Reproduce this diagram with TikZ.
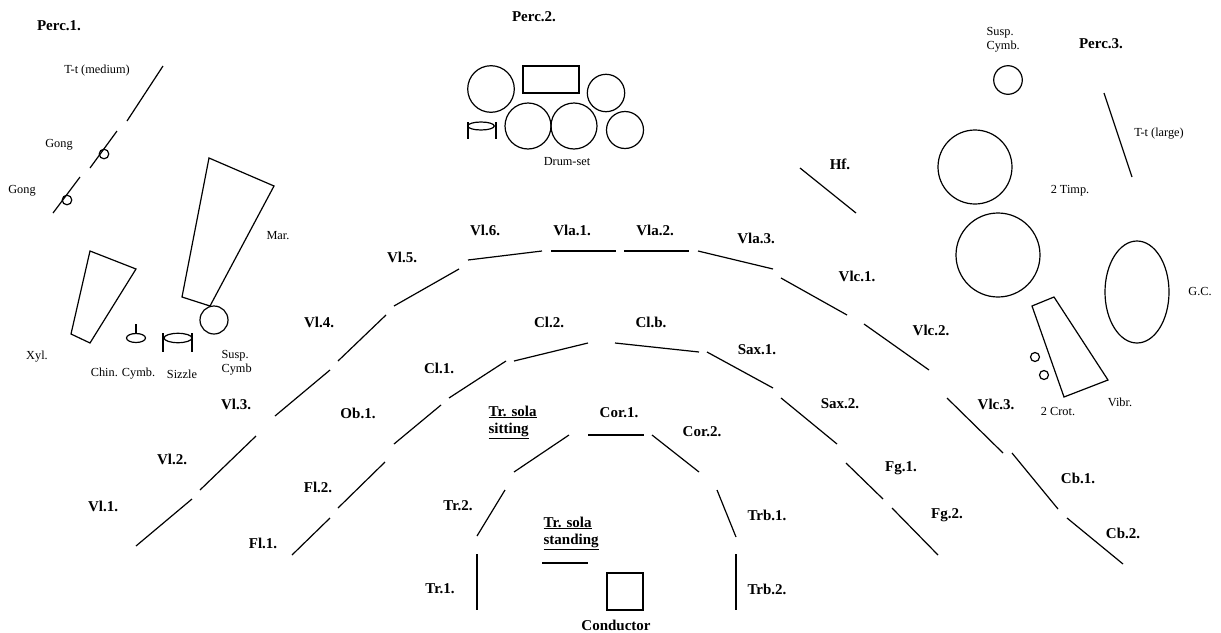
\documentclass[tikz,border=0pt]{standalone}
\usepackage{fontspec}
\setmainfont{Liberation Serif}
\begin{document}
\begin{tikzpicture}[x=1pt,y=-1pt,
  lbl/.style={font=\bfseries\fontsize{15}{17}\selectfont, inner sep=0pt},
  sm/.style={font=\fontsize{12.3}{14}\selectfont, inner sep=0pt},
  ln/.style={line width=1.2pt},
  every path/.style={line width=1.2pt}]
\useasboundingbox (0,0) rectangle (1221,632);
\fill[white] (0,0) rectangle (1221,632);

% ---------- Perc.1 ----------
\node[lbl] (perc1) at (59,26) {Perc.1.};
\node[sm] (ttmed) at (97,71) {T-t (medium)};
\node[sm] (gong1) at (59,145) {Gong};
\node[sm] (gong2) at (22,191) {Gong};
\draw (163,66) -- (127,121);
\draw (117,131) -- (90,168);
\draw (104,154) circle[radius=4.8pt];
\draw (80,177) -- (53,213);
\draw (67,200) circle[radius=4.8pt];
\draw (209,158) -- (274,186) -- (210,306) -- (182,297) -- cycle;
\draw (214,320) circle[radius=14pt];
\node[sm] (mar) at (278,236) {Mar.};
\draw (90,251) -- (136,269) -- (90,343) -- (71,334) -- cycle;
\node[sm] (xyl) at (37,357) {Xyl.};
\draw (136,338) ellipse[x radius=9.5pt, y radius=4.5pt];
\draw (136,324) -- (136,333.5);
\draw (178,338) ellipse[x radius=14pt, y radius=4.7pt];
\draw (163,333) -- (163,352);
\draw (192,333) -- (192,352);
\node[sm] (chin) at (123,374) {Chin. Cymb.};
\node[sm] (sizzle) at (182,374) {Sizzle};
\node[sm, anchor=west, align=left] (susp1) at (221,363) {Susp.\\Cymb};

% ---------- Perc.2 ----------
\node[lbl] (perc2) at (534,17) {Perc.2.};
\draw (491,89) circle[radius=23.3pt];
\draw (523,66) rectangle (579,93);
\draw (606,93) circle[radius=18.7pt];
\draw (528,126) circle[radius=23pt];
\draw (574,126) circle[radius=23pt];
\draw (625,130) circle[radius=18.5pt];
\draw (481,126) ellipse[x radius=13.3pt, y radius=4pt];
\draw (468,122) -- (468,139);
\draw (496,122) -- (496,139);
\node[sm] (drum) at (567,162) {Drum-set};

% ---------- Perc.3 ----------
\node[lbl] (perc3) at (1101,44) {Perc.3.};
\node[sm, anchor=west, align=left] (susp3) at (986,40) {Susp.\\Cymb.};
\draw (1008,80) circle[radius=14.3pt];
\draw (1104,93) -- (1132,177);
\node[sm] (ttl) at (1159,134) {T-t (large)};
\draw (975,167) circle[radius=37pt];
\draw (998,255) circle[radius=42pt];
\node[sm] (timp) at (1070,191) {2 Timp.};
\draw (1137,292) ellipse[x radius=32pt, y radius=51pt];
\node[sm] (gc) at (1200,292) {G.C.};
\draw (1032,306) -- (1054,297) -- (1108,380) -- (1064,397) -- cycle;
\draw (1035,357) circle[radius=4.5pt];
\draw (1044,375) circle[radius=4.5pt];
\node[sm] (crot) at (1058,412) {2 Crot.};
\node[sm] (vibr) at (1120,402) {Vibr.};

% ---------- Harp ----------
\node[lbl] (hf) at (840,164) {Hf.};
\draw (800,168) -- (856,213);

% ---------- Strings ----------
\node[lbl] (vl1) at (103,506) {Vl.1.};
\node[lbl] (vl2) at (172,459) {Vl.2.};
\node[lbl] (vl3) at (236,404) {Vl.3.};
\node[lbl] (vl4) at (319,322) {Vl.4.};
\node[lbl] (vl5) at (402,257) {Vl.5.};
\node[lbl] (vl6) at (485,230) {Vl.6.};
\node[lbl] (vla1) at (572,230) {Vla.1.};
\node[lbl] (vla2) at (655,230) {Vla.2.};
\node[lbl] (vla3) at (756,238) {Vla.3.};
\node[lbl] (vlc1) at (857,276) {Vlc.1.};
\node[lbl] (vlc2) at (931,330) {Vlc.2.};
\node[lbl] (vlc3) at (996,404) {Vlc.3.};
\node[lbl] (cb1) at (1078,478) {Cb.1.};
\node[lbl] (cb2) at (1123,533) {Cb.2.};
\draw (136,546) -- (192,499);
\draw (200,490) -- (256,436);
\draw (275,416) -- (330,370);
\draw (338,361) -- (386,315);
\draw (394,306) -- (459,269);
\draw (468,260) -- (542,251);
\draw (551,251) -- (616,251);
\draw (624,251) -- (689,251);
\draw (698,251) -- (773,269);
\draw (781,278) -- (847,315);
\draw (864,324) -- (929,370);
\draw (947,398) -- (1003,453);
\draw (1012,453) -- (1058,509);
\draw (1067,518) -- (1123,564);

% ---------- Woodwinds ----------
\node[lbl] (fl1) at (263,543) {Fl.1.};
\node[lbl] (fl2) at (318,487) {Fl.2.};
\node[lbl] (ob1) at (358,413) {Ob.1.};
\node[lbl] (cl1) at (439,368) {Cl.1.};
\node[lbl] (cl2) at (549,322) {Cl.2.};
\node[lbl] (clb) at (651,322) {Cl.b.};
\node[lbl] (sax1) at (757,350) {Sax.1.};
\node[lbl] (sax2) at (840,404) {Sax.2.};
\node[lbl] (fg1) at (901,468) {Fg.1.};
\node[lbl] (fg2) at (947,515) {Fg.2.};
\draw (292,555) -- (330,518);
\draw (338,508) -- (385,462);
\draw (394,444) -- (441,405);
\draw (449,398) -- (506,361);
\draw (514,361) -- (588,343);
\draw (615,343) -- (699,352);
\draw (707,352) -- (773,388);
\draw (781,398) -- (837,444);
\draw (846,463) -- (883,499);
\draw (892,508) -- (938,555);

% ---------- Brass ----------
\node[lbl, anchor=west, align=left] (solasit) at (488,422) {\underline{Tr. sola}\\\underline{sitting}};
\node[lbl] (cor1) at (619,413) {Cor.1.};
\node[lbl] (cor2) at (702,432) {Cor.2.};
\node[lbl] (tr2) at (458,506) {Tr.2.};
\node[lbl] (tr1) at (440,589) {Tr.1.};
\node[lbl] (trb1) at (767,515) {Trb.1.};
\node[lbl] (trb2) at (767,589) {Trb.2.};
\draw (514,472) -- (569,435);
\draw (588,435) -- (644,435);
\draw (652,435) -- (699,472);
\draw (477,536) -- (505,490);
\draw (477,554) -- (477,610);
\draw (717,490) -- (736,537);
\draw (736,554) -- (736,610);
\node[lbl, anchor=west, align=left] (solastand) at (543,533) {\underline{Tr. sola}\\\underline{standing}};
\draw (542,563) -- (588,563);
\draw (607,573) rectangle (643,610);
\node[lbl] (cond) at (616,625) {Conductor};
\end{tikzpicture}
\end{document}
